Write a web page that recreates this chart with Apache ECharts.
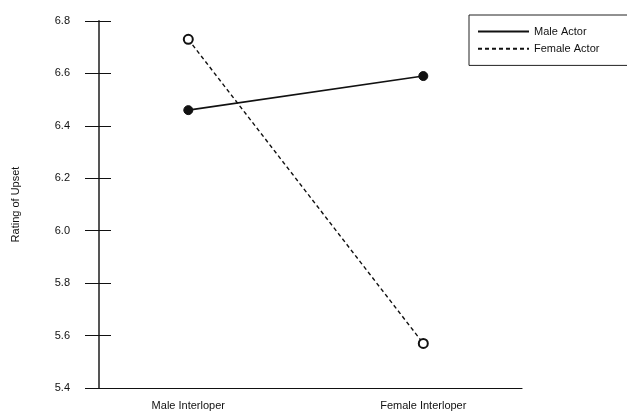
<!DOCTYPE html>
<html>
<head>
<meta charset="utf-8">
<script src="https://cdn.jsdelivr.net/npm/echarts@6/dist/echarts.min.js"></script>
<style>html,body{margin:0;padding:0;background:#fff;}#c{width:627px;height:414px;}</style>
</head>
<body>
<div id="c"></div>
<script>
var categories = ['Male Interloper', 'Female Interloper'];
var maleActor = [6.46, 6.59];
var femaleActor = [6.73, 5.57];
var seriesNames = ['Male Actor', 'Female Actor'];
var yTicks = [5.4, 5.6, 5.8, 6.0, 6.2, 6.4, 6.6, 6.8];

var chart = echarts.init(document.getElementById('c'), null, {renderer: 'canvas'});
var font = 'Liberation Sans, Arial, sans-serif';
function pts(arr){ return arr.map(function(v,i){ return [i, v]; }); }

var option = {
  backgroundColor: '#fff',
  animation: false,
  grid: {left: 99, top: 21, width: 423, height: 367},
  legend: {
    orient: 'vertical', left: 469, top: 15,
    padding: [11, 40, 10, 8],
    borderColor: '#222', borderWidth: 1,
    itemWidth: 51, itemHeight: 14, itemGap: 5,
    itemStyle: {opacity: 0},
    textStyle: {fontFamily: font, fontSize: 11, color: '#111'},
    data: seriesNames
  },
  xAxis: {
    type: 'value', min: -0.38, max: 1.42,
    axisLine: {onZero: false, lineStyle: {color: '#111', width: 1.2}},
    axisTick: {show: false},
    splitLine: {show: false},
    axisLabel: {
      customValues: [0, 1], margin: 12,
      fontFamily: font, fontSize: 11, color: '#111',
      formatter: function(v){ return categories[Math.round(v)] || ''; }
    }
  },
  yAxis: [{
    type: 'value', min: 5.4, max: 6.8, interval: 0.2,
    name: 'Rating of Upset', nameLocation: 'middle', nameGap: 78,
    nameTextStyle: {fontFamily: font, fontSize: 11, color: '#111'},
    axisLine: {show: true, onZero: false, lineStyle: {color: '#555', width: 2}},
    axisTick: {show: true, length: 14, lineStyle: {color: '#111', width: 1}},
    splitLine: {show: false},
    axisLabel: {
      margin: 29, fontFamily: font, fontSize: 11, color: '#111',
      formatter: function(v){ return v.toFixed(1); }
    }
  }, {
    type: 'value', min: 5.4, max: 6.8, interval: 0.2, position: 'left',
    axisLine: {show: false, onZero: false},
    axisTick: {show: true, inside: true, length: 12, lineStyle: {color: '#111', width: 1}},
    axisLabel: {show: false},
    splitLine: {show: false}
  }],
  series: [{
    name: seriesNames[0], type: 'line', data: pts(maleActor),
    symbol: 'circle', symbolSize: 9,
    itemStyle: {color: '#111', borderColor: '#111'},
    lineStyle: {color: '#111', width: 1.6, type: 'solid'},
    z: 3
  }, {
    name: seriesNames[1], type: 'line', data: pts(femaleActor),
    symbol: 'emptyCircle', symbolSize: 9,
    itemStyle: {color: '#111', borderColor: '#111', borderWidth: 1.5},
    lineStyle: {color: '#111', width: 1.4, type: [4, 3]},
    z: 2
  }]
};
chart.setOption(option);
</script>
</body>
</html>
